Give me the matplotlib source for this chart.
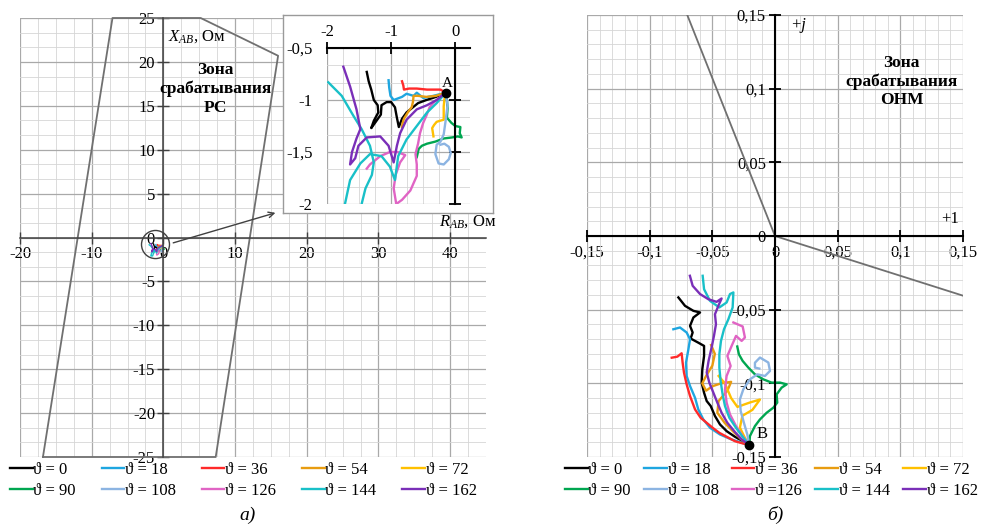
import numpy as np
import matplotlib.pyplot as plt
from matplotlib.patches import Ellipse
from matplotlib.ticker import MultipleLocator, FuncFormatter

plt.rcParams['font.family'] = ['Liberation Serif', 'DejaVu Serif']
plt.rcParams['mathtext.fontset'] = 'custom'
plt.rcParams['mathtext.rm'] = 'Liberation Serif'
plt.rcParams['mathtext.it'] = 'Liberation Serif:italic'
plt.rcParams['axes.unicode_minus'] = False

# --- данные ---
theta = [0, 18, 36, 54, 72, 90, 108, 126, 144, 162]
colors = ['#000000', '#1ea6e0', '#ff2a2a', '#e89c10', '#ffc000',
          '#00a650', '#8cb4e2', '#e064c4', '#19c0c8', '#7a2fb8']

# годограф Z_AB, Ом (левый рисунок)
R_ab = [
    [-0.15, -0.30, -0.45, -0.58, -0.68, -0.76, -0.83, -0.88, -0.91, -0.94, -1.00, -1.07, -1.15, -1.16, -1.24, -1.31, -1.27, -1.20, -1.21, -1.27, -1.31, -1.35, -1.38],
    [-0.15, -0.34, -0.50, -0.60, -0.65, -0.76, -0.83, -0.96, -1.01, -1.03, -1.04],
    [-0.15, -0.23, -0.44, -0.60, -0.72, -0.80, -0.81, -0.83],
    [-0.15, -0.30, -0.45, -0.58, -0.65, -0.66, -0.68, -0.74, -0.80, -0.82, -0.83],
    [-0.15, -0.17, -0.18, -0.18, -0.18, -0.24, -0.29, -0.33, -0.36, -0.34],
    [-0.15, -0.13, -0.12, -0.13, -0.06, 0.00, 0.08, 0.07, 0.10, 0.04, -0.05, -0.18, -0.31, -0.44, -0.52, -0.57, -0.60],
    [-0.15, -0.12, -0.15, -0.18, -0.23, -0.29, -0.31, -0.26, -0.18, -0.10, -0.07, -0.10, -0.17, -0.23],
    [-0.15, -0.25, -0.33, -0.40, -0.45, -0.50, -0.55, -0.58, -0.62, -0.60, -0.60, -0.70, -0.83, -0.92, -0.96, -0.93, -0.86, -0.78, -0.90, -1.02, -1.17, -1.33, -1.38],
    [-0.15, -0.29, -0.44, -0.60, -0.76, -0.89, -0.94, -1.02, -1.15, -1.33, -1.48, -1.64, -1.72, -1.75, -1.50, -1.40, -1.30, -1.27, -1.33, -1.46, -1.59, -1.77, -1.98],
    [-0.15, -0.29, -0.44, -0.60, -0.76, -0.86, -0.91, -0.96, -1.04, -1.17, -1.38, -1.51, -1.56, -1.64, -1.61, -1.54, -1.48, -1.54, -1.64, -1.745],
]
X_ab = [
    [-0.93, -0.97, -1.00, -1.03, -1.08, -1.12, -1.18, -1.26, -1.17, -1.07, -1.02, -1.02, -1.05, -1.14, -1.21, -1.27, -1.20, -1.12, -1.05, -1.00, -0.90, -0.82, -0.73],
    [-0.93, -0.96, -0.98, -0.93, -0.96, -0.94, -0.97, -1.00, -0.96, -0.88, -0.81],
    [-0.93, -0.90, -0.90, -0.89, -0.89, -0.90, -0.86, -0.82],
    [-0.93, -0.96, -0.97, -0.96, -0.96, -1.02, -1.07, -1.12, -1.18, -1.22, -1.26],
    [-0.93, -1.00, -1.06, -1.12, -1.19, -1.20, -1.21, -1.24, -1.27, -1.35],
    [-0.93, -1.00, -1.08, -1.17, -1.22, -1.25, -1.26, -1.32, -1.36, -1.35, -1.36, -1.37, -1.40, -1.42, -1.44, -1.47, -1.55],
    [-0.93, -1.05, -1.20, -1.33, -1.40, -1.43, -1.52, -1.61, -1.62, -1.57, -1.51, -1.45, -1.42, -1.43],
    [-0.93, -0.98, -1.02, -1.07, -1.15, -1.22, -1.32, -1.42, -1.52, -1.62, -1.73, -1.87, -1.96, -2.00, -1.85, -1.72, -1.60, -1.53, -1.50, -1.50, -1.54, -1.62, -1.66],
    [-0.93, -1.03, -1.12, -1.25, -1.38, -1.54, -1.77, -1.64, -1.54, -1.52, -1.61, -1.77, -2.00, -2.10, -2.10, -1.85, -1.72, -1.60, -1.44, -1.28, -1.15, -0.96, -0.83],
    [-0.93, -1.00, -1.05, -1.09, -1.19, -1.32, -1.44, -1.60, -1.44, -1.35, -1.36, -1.44, -1.56, -1.62, -1.50, -1.37, -1.28, -1.09, -0.87, -0.68],
]

# зона срабатывания РС, Ом
zone_R = [-16.8, -7.1, 5.2, 16.0, 7.3, -16.8]
zone_X = [-25.0, 25.0, 25.0, 20.7, -25.0, -25.0]

# комплексная плоскость ОНМ (правый рисунок)
re_w = [
    [-0.0205, -0.0266, -0.0319, -0.0385, -0.0439, -0.0479, -0.0513, -0.0545, -0.0566, -0.0585, -0.0580, -0.0566, -0.0566, -0.0612, -0.0673, -0.0657, -0.0678, -0.0651, -0.0598, -0.0651, -0.0718, -0.0771],
    [-0.0205, -0.0346, -0.0439, -0.0518, -0.0572, -0.0612, -0.0638, -0.0678, -0.0705, -0.0710, -0.0691, -0.0678, -0.0705, -0.0758, -0.0811],
    [-0.0205, -0.0319, -0.0385, -0.0444, -0.0497, -0.0545, -0.0593, -0.0638, -0.0678, -0.0705, -0.0726, -0.0737, -0.0745, -0.0779, -0.0824],
    [-0.0205, -0.027, -0.033, -0.040, -0.046, -0.045, -0.038, -0.035, -0.043, -0.050, -0.055, -0.058, -0.055, -0.050, -0.048, -0.051],
    [-0.0205, -0.024, -0.028, -0.026, -0.018, -0.012, -0.020, -0.030, -0.035, -0.040, -0.045],
    [-0.0205, -0.0200, -0.0160, -0.0120, -0.0067, -0.0013, 0.0018, 0.0013, 0.0053, 0.0093, 0.0040, -0.0027, -0.0093, -0.0160, -0.0213, -0.0258, -0.0288, -0.0301],
    [-0.0205, -0.0221, -0.0248, -0.0274, -0.0280, -0.0253, -0.0200, -0.0141, -0.0080, -0.0040, -0.0053, -0.0120, -0.0160, -0.0160, -0.0125],
    [-0.0205, -0.0258, -0.0311, -0.0359, -0.0386, -0.0399, -0.0386, -0.0354, -0.0380, -0.0346, -0.0311, -0.0266, -0.0240, -0.0258, -0.0332],
    [-0.0205, -0.0258, -0.0311, -0.0364, -0.0399, -0.0418, -0.0434, -0.0444, -0.0444, -0.0431, -0.0407, -0.0372, -0.0338, -0.0332, -0.0359, -0.0386, -0.0444, -0.0519, -0.0566, -0.0577],
    [-0.0205, -0.0266, -0.0319, -0.0380, -0.0426, -0.0460, -0.0492, -0.0524, -0.0545, -0.0530, -0.0506, -0.0487, -0.0471, -0.0479, -0.0452, -0.0426, -0.0466, -0.0532, -0.0598, -0.0657, -0.0679],
]
im_w = [
    [-0.142, -0.1388, -0.1363, -0.1325, -0.1279, -0.1222, -0.1154, -0.1120, -0.1064, -0.0996, -0.0905, -0.0814, -0.0746, -0.0724, -0.0696, -0.0655, -0.0610, -0.0553, -0.0519, -0.0508, -0.0474, -0.0417],
    [-0.142, -0.1381, -0.1347, -0.1302, -0.1245, -0.1177, -0.1098, -0.1018, -0.0950, -0.0860, -0.0769, -0.0701, -0.0655, -0.0621, -0.0633],
    [-0.142, -0.1393, -0.1363, -0.1336, -0.1302, -0.1268, -0.1234, -0.1177, -0.1086, -0.1007, -0.0928, -0.0860, -0.0796, -0.0819, -0.0826],
    [-0.142, -0.138, -0.133, -0.127, -0.120, -0.112, -0.105, -0.099, -0.100, -0.102, -0.105, -0.100, -0.095, -0.088, -0.080, -0.074],
    [-0.142, -0.137, -0.130, -0.122, -0.118, -0.111, -0.113, -0.116, -0.110, -0.100, -0.095],
    [-0.142, -0.1358, -0.1290, -0.1245, -0.1200, -0.1165, -0.1131, -0.1075, -0.1029, -0.1007, -0.0995, -0.0995, -0.0973, -0.0939, -0.0893, -0.0848, -0.0803, -0.0750],
    [-0.142, -0.1347, -0.1268, -0.1188, -0.1109, -0.1041, -0.0973, -0.0939, -0.0950, -0.0916, -0.0859, -0.0825, -0.0860, -0.0893, -0.0900],
    [-0.142, -0.1358, -0.1290, -0.1211, -0.1131, -0.1041, -0.0950, -0.0882, -0.0814, -0.0746, -0.0678, -0.0712, -0.0689, -0.0614, -0.0587],
    [-0.142, -0.1363, -0.1302, -0.1234, -0.1154, -0.1075, -0.0984, -0.0893, -0.0803, -0.0712, -0.0633, -0.0565, -0.0485, -0.0383, -0.0394, -0.0451, -0.0485, -0.0440, -0.0361, -0.0270],
    [-0.142, -0.1381, -0.1331, -0.1268, -0.1200, -0.1131, -0.1063, -0.0995, -0.0927, -0.0848, -0.0757, -0.0678, -0.0599, -0.0531, -0.0474, -0.0424, -0.0447, -0.0429, -0.0394, -0.0338, -0.0270],
]

# граница зоны срабатывания ОНМ
onm_re = [-0.07, 0.0, 0.15]
onm_im = [0.15, 0.0, -0.0405]

labels_a = ['ϑ = %d' % t for t in theta]
labels_b = ['ϑ = %d' % t for t in theta]
labels_b[7] = 'ϑ =126'

GRID_MAJ = '#a9a9a9'
GRID_MIN = '#d6d6d6'
FS = 12


def comma(v, pos):
    s = '%g' % round(v, 4)
    if s == '-0':
        s = '0'
    return s.replace('.', ',')


def setka(ax):
    ax.set_axisbelow(True)
    ax.grid(which='major', color=GRID_MAJ, lw=0.9)
    ax.grid(which='minor', color=GRID_MIN, lw=0.6)
    ax.tick_params(which='minor', length=0)


def legenda(ax, handles, labels, x0, colsp):
    order = [0, 5, 1, 6, 2, 7, 3, 8, 4, 9]
    ax.legend([handles[i] for i in order], [labels[i] for i in order],
              ncol=5, loc='upper left', bbox_to_anchor=(x0, 1 - 462 / 530),
              bbox_transform=fig.transFigure, frameon=False, fontsize=FS,
              handlelength=1.35, handletextpad=0.05, columnspacing=colsp,
              labelspacing=0.3, borderpad=0, borderaxespad=0)


fig = plt.figure(figsize=(9.87, 5.30), dpi=100)

# ---------- а) сопротивление на зажимах РС ----------
ax = fig.add_axes([20 / 987, 1 - 457 / 530, 466 / 987, 439 / 530])
ax.set_xlim(-20, 45)
ax.set_ylim(-25, 25)
ax.xaxis.set_major_locator(MultipleLocator(10))
ax.xaxis.set_minor_locator(MultipleLocator(2.5))
ax.yaxis.set_major_locator(MultipleLocator(5))
ax.yaxis.set_minor_locator(MultipleLocator(5 / 3))
setka(ax)
for s in ['top', 'right']:
    ax.spines[s].set_visible(False)
for s in ['left', 'bottom']:
    ax.spines[s].set_position(('data', 0))
    ax.spines[s].set_color('#404040')
    ax.spines[s].set_linewidth(1.1)
ax.tick_params(which='major', direction='inout', length=8, width=1.0,
               color='#404040', labelsize=FS, pad=2)

ax.plot(zone_R, zone_X, color='#707070', lw=1.3, clip_on=False)
for r, x, c in zip(R_ab, X_ab, colors):
    ax.plot(r, x, color=c, lw=1.0)
ax.add_patch(Ellipse((-1.1, -0.8), 3.9, 3.2, fill=False, ec='#404040', lw=1.0))
ax.annotate('', xy=(16.0, 2.9), xytext=(1.0, -0.7),
            arrowprops=dict(arrowstyle='->', color='#404040', lw=1.0))
ax.text(0.7, 22.9, r'$X_{AB}$, Ом', fontsize=FS, ha='left', va='center')
ax.text(7.3, 16.9, 'Зона\nсрабатывания\nРС', fontsize=12.5, fontweight='bold',
        ha='center', va='center', linespacing=1.2)
ax.text(38.5, 0.9, r'$R_{AB}$, Ом', fontsize=FS, ha='left', va='bottom')

# рамка выноски
fr = fig.add_axes([283 / 987, 1 - 213 / 530, 210 / 987, 198 / 530])
fr.set_facecolor('white')
fr.set_xticks([])
fr.set_yticks([])
for s in fr.spines.values():
    s.set_color('#9a9a9a')
    s.set_linewidth(1.0)

ai = fig.add_axes([327 / 987, 1 - 204 / 530, 143 / 987, 156 / 530])
ai.set_xlim(-2, 0.23)
ai.set_ylim(-2, -0.5)
ai.xaxis.set_major_locator(MultipleLocator(1))
ai.xaxis.set_minor_locator(MultipleLocator(0.25))
ai.yaxis.set_major_locator(MultipleLocator(0.5))
ai.yaxis.set_minor_locator(MultipleLocator(0.5 / 3))
ai.yaxis.set_major_formatter(FuncFormatter(comma))
setka(ai)
ai.spines['bottom'].set_visible(False)
ai.spines['left'].set_visible(False)
ai.spines['right'].set_position(('data', 0))
for s in ['top', 'right']:
    ai.spines[s].set_color('black')
    ai.spines[s].set_linewidth(1.5)
ai.tick_params(axis='x', which='major', top=True, bottom=False, labeltop=True,
               labelbottom=False, direction='inout', length=9, width=1.3,
               labelsize=FS, pad=1)
ai.tick_params(axis='y', which='major', left=False, right=True, labelleft=True,
               labelright=False, direction='inout', length=9, width=1.3,
               labelsize=FS, pad=6)
lines_a = []
for r, x, c in zip(R_ab, X_ab, colors):
    ln, = ai.plot(r, x, color=c, lw=1.7)
    lines_a.append(ln)
ai.plot(R_ab[0][0], X_ab[0][0], 'o', color='black', ms=6, zorder=5)
ai.text(R_ab[0][0] + 0.03, X_ab[0][0] + 0.03, 'A', fontsize=11,
        ha='center', va='bottom')
legenda(ax, lines_a, labels_a, 10 / 987, 1.55)

# ---------- б) ОНМ ----------
bx = fig.add_axes([587 / 987, 1 - 457 / 530, 376 / 987, 442 / 530])
bx.set_xlim(-0.15, 0.15)
bx.set_ylim(-0.15, 0.15)
for a in [bx.xaxis, bx.yaxis]:
    a.set_major_locator(MultipleLocator(0.05))
    a.set_minor_locator(MultipleLocator(0.01))
    a.set_major_formatter(FuncFormatter(comma))
setka(bx)
for s in ['top', 'right']:
    bx.spines[s].set_visible(False)
for s in ['left', 'bottom']:
    bx.spines[s].set_position(('data', 0))
    bx.spines[s].set_color('black')
    bx.spines[s].set_linewidth(1.5)
bx.tick_params(which='major', direction='inout', length=9, width=1.3,
               labelsize=FS, pad=2)

bx.plot(onm_re, onm_im, color='#707070', lw=1.3)
lines_b = []
for r, x, c in zip(re_w, im_w, colors):
    ln, = bx.plot(r, x, color=c, lw=1.7)
    lines_b.append(ln)
bx.plot(re_w[0][0], im_w[0][0], 'o', color='black', ms=6, zorder=5)
bx.text(re_w[0][0] + 0.006, im_w[0][0] + 0.002, 'B', fontsize=12,
        ha='left', va='bottom')
bx.text(0.012, 0.143, '+j', fontsize=FS, style='italic', ha='left', va='center')
bx.text(0.147, 0.006, '+1', fontsize=FS, ha='right', va='bottom')
bx.text(0.101, 0.105, 'Зона\nсрабатывания\nОНМ', fontsize=12.5,
        fontweight='bold', ha='center', va='center', linespacing=1.2)
legenda(bx, lines_b, labels_b, 565 / 987, 0.8)

fig.text(248 / 987, 1 - 515 / 530, 'а)', fontsize=14, style='italic',
         ha='center', va='center')
fig.text(775 / 987, 1 - 515 / 530, 'б)', fontsize=14, style='italic',
         ha='center', va='center')

fig.savefig('out.png', dpi=100)
